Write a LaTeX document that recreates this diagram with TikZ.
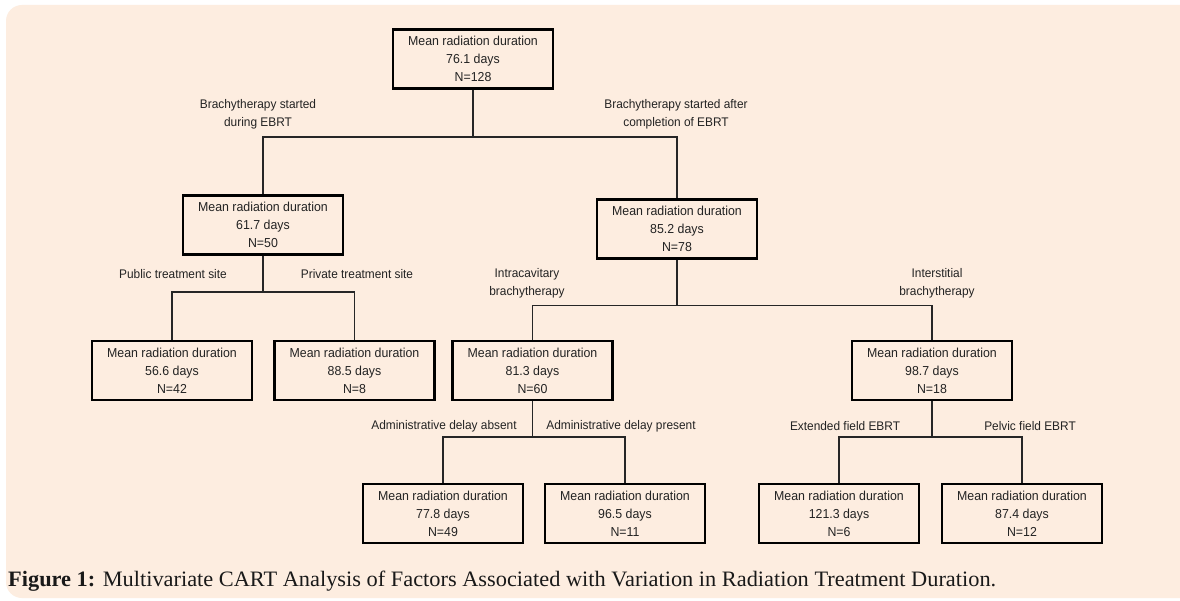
\documentclass[tikz,border=0pt]{standalone}
\usepackage{fontspec}
\usepackage{graphicx}
\newfontfamily\boxfont{Liberation Sans}[FakeStretch=0.95]
\newfontfamily\capfont{Liberation Serif}
\definecolor{bgc}{RGB}{253,237,224}
\definecolor{txt}{RGB}{35,35,35}
\tikzset{
  stbox/.style={draw=black, line width=2.4pt, fill=bgc, minimum width=160pt, minimum height=59pt,
    inner sep=0pt, align=center, text=txt, font={\boxfont\fontsize{13}{18}\selectfont}},
  lbl/.style={align=center, text=txt, inner sep=0pt, font={\boxfont\fontsize{12.5}{18}\selectfont}},
  conn/.style={draw=black!85, line width=1.5pt}
}
\begin{document}
\begin{tikzpicture}[x=1pt,y=-1pt]
\useasboundingbox (0,0) rectangle (1180,601);
\clip (0,0) rectangle (1180,601);
\fill[white] (0,0) rectangle (1180,601);
\fill[bgc, rounded corners=16pt] (6,5) rectangle (1220,598);

% nodes
\node[stbox] (root) at (473,59) {Mean radiation duration\\76.1 days\\N=128};
\node[stbox] (a) at (263,225) {Mean radiation duration\\61.7 days\\N=50};
\node[stbox] (b) at (677,229) {Mean radiation duration\\85.2 days\\N=78};
\node[stbox] (a1) at (172,370.5) {Mean radiation duration\\56.6 days\\N=42};
\node[stbox] (a2) at (354.5,370.5) {Mean radiation duration\\88.5 days\\N=8};
\node[stbox] (b1) at (532.5,370.5) {Mean radiation duration\\81.3 days\\N=60};
\node[stbox] (b2) at (932,370.5) {Mean radiation duration\\98.7 days\\N=18};
\node[stbox] (b11) at (443,513.5) {Mean radiation duration\\77.8 days\\N=49};
\node[stbox] (b12) at (625,513.5) {Mean radiation duration\\96.5 days\\N=11};
\node[stbox] (b21) at (839,513.5) {Mean radiation duration\\121.3 days\\N=6};
\node[stbox] (b22) at (1022,513.5) {Mean radiation duration\\87.4 days\\N=12};

% junctions
\coordinate (j0) at (473,137);
\coordinate (j1) at (263,292);
\coordinate (j2) at (677,305.5);
\coordinate (j3) at (532.5,437);
\coordinate (j4) at (932,437);

% connectors
\draw[conn] (root.south) -- (j0);
\draw[conn] (a.north) |- (j0) -| (b.north);
\draw[conn] (a.south) -- (j1);
\draw[conn] (a1.north) |- (j1) -| (a2.north);
\draw[conn] (b.south) -- (j2);
\draw[conn] (b1.north) |- (j2) -| (b2.north);
\draw[conn] (b1.south) -- (j3);
\draw[conn] (b11.north) |- (j3) -| (b12.north);
\draw[conn] (b2.south) -- (j4);
\draw[conn] (b21.north) |- (j4) -| (b22.north);

% labels
\node[lbl] (l1) at (258,114) {Brachytherapy started\\during EBRT};
\node[lbl] (l2) at (676,114) {Brachytherapy started after\\completion of EBRT};
\node[lbl] (l3) at (173,274) {Public treatment site};
\node[lbl] (l4) at (357,274) {Private treatment site};
\node[lbl] (l5) at (527,283) {Intracavitary\\brachytherapy};
\node[lbl] (l6) at (937,283) {Interstitial\\brachytherapy};
\node[lbl] (l7) at (444,426) {Administrative delay absent};
\node[lbl] (l8) at (621,426) {Administrative delay present};
\node[lbl] (l9) at (845,426) {Extended field EBRT};
\node[lbl] (l10) at (1030,426) {Pelvic field EBRT};

% caption
\node[anchor=base west, inner sep=0pt, text=black!90] (cap) at (8,586)
  {\resizebox{988pt}{\height}{\capfont\fontsize{22}{24}\selectfont\textbf{Figure 1:} Multivariate CART Analysis of Factors Associated with Variation in Radiation Treatment Duration.}};
\end{tikzpicture}
\end{document}
